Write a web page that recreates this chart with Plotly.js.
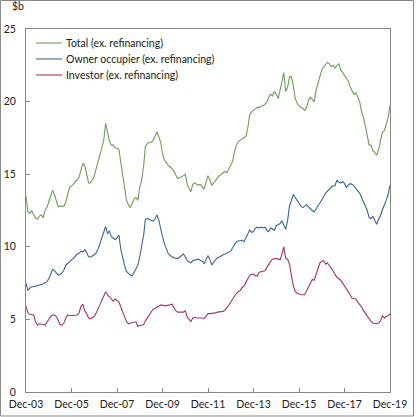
<!DOCTYPE html>
<html>
<head>
<meta charset="utf-8">
<script src="https://cdn.plot.ly/plotly-3.0.1.min.js"></script>
<style>
  html, body { margin: 0; padding: 0; background: #fff; }
  #chart { width: 416px; height: 417px; }
</style>
</head>
<body>
<div id="chart"></div>
<script>
// monthly, Dec-03 .. Dec-19, $b
var total = [
  13.5,
  12.4, 12.3, 12.5, 12.2, 12.0, 11.9, 12.1, 12.2, 12.0, 12.5, 12.7, 13.1,
  13.6, 13.9, 13.6, 13.2, 12.75, 12.8, 12.8, 12.8, 13.1, 13.7, 14.1, 14.2,
  14.3, 14.5, 14.6, 14.8, 15.2, 15.75, 15.6, 14.9, 14.4, 14.4, 14.6, 14.9,
  15.4, 15.8, 16.2, 16.7, 17.3, 18.5, 17.9, 17.3, 17.0, 17.0, 16.8, 16.8,
  16.7, 15.8, 14.8, 13.8, 13.2, 12.9, 12.7, 13.0, 13.3, 13.4, 13.2, 14.1,
  14.6, 15.6, 16.9, 17.1, 17.2, 17.2, 17.3, 17.6, 17.9, 17.6, 17.2, 16.4,
  16.0, 15.8, 15.6, 15.5, 15.4, 15.2, 14.9, 14.7, 14.75, 14.8, 14.9, 15.0,
  14.3, 14.0, 13.8, 14.3, 14.4, 14.3, 14.25, 14.3, 14.1, 14.0, 14.4, 14.9,
  14.6, 14.25, 14.4, 14.6, 14.75, 14.9, 15.0, 15.1, 15.2, 15.1, 15.4, 15.6,
  15.9, 16.6, 17.0, 17.25, 17.35, 17.45, 17.5, 17.6, 18.2, 19.1, 19.3, 19.4,
  19.5, 19.6, 19.6, 19.7, 19.7, 19.8, 19.95, 20.3, 20.5, 20.4, 20.7, 20.5,
  20.2, 20.8, 21.4, 22.0, 20.7, 21.0, 21.7, 21.7, 21.1, 20.2, 19.9, 19.7,
  19.6, 19.55, 19.4, 19.6, 20.1, 20.3, 20.15, 20.0, 20.8, 21.3, 21.8, 22.2,
  22.4, 22.6, 22.7, 22.6, 22.4, 22.5, 22.3, 22.5, 22.6, 22.2, 22.0, 21.85,
  21.6, 21.4, 21.0, 20.7, 20.5, 20.6, 20.3, 20.0, 19.3, 18.9, 18.3, 17.6,
  17.0, 17.0, 16.6, 16.5, 16.3, 16.7, 17.3, 17.9, 18.0, 18.4, 18.9, 19.7
];
var ownerOccupier = [
  7.5,
  7.0, 7.15, 7.25, 7.25, 7.3, 7.3, 7.35, 7.4, 7.45, 7.5, 7.6, 7.8,
  8.1, 8.45, 8.35, 8.2, 8.05, 8.1, 8.2, 8.4, 8.75, 8.85, 9.0, 9.1,
  9.2, 9.4, 9.5, 9.55, 9.7, 9.65, 9.8, 9.6, 9.3, 9.3, 9.35, 9.45,
  9.6, 9.85, 10.2, 10.6, 11.0, 11.4, 10.9, 11.1, 10.7, 10.6, 10.5, 10.6,
  10.8, 9.8, 9.2, 8.7, 8.3, 8.15, 8.05, 8.0, 8.25, 8.55, 8.75, 9.35,
  10.0, 10.8, 11.9, 11.95, 11.9, 11.85, 11.75, 11.9, 12.2, 11.85, 11.2, 10.7,
  10.2, 9.9, 9.55, 9.4, 9.3, 9.25, 9.2, 9.2, 9.3, 9.4, 9.5, 9.3,
  9.05, 8.95, 8.9, 9.05, 9.1, 9.15, 9.15, 9.05, 9.0, 8.85, 9.1, 9.4,
  9.1, 8.75, 8.95, 9.1, 9.25, 9.3, 9.4, 9.45, 9.5, 9.55, 9.6, 9.7,
  9.95, 10.2, 10.35, 10.4, 10.45, 10.45, 10.35, 10.6, 10.9, 11.15, 11.0, 11.05,
  11.3, 11.35, 11.3, 11.35, 11.3, 11.35, 11.15, 11.05, 11.3, 11.25, 11.15, 11.45,
  11.55, 11.6, 11.8, 11.5, 11.2, 11.8, 12.8, 13.2, 13.6, 13.4, 13.2, 13.0,
  12.8, 12.7, 12.8, 12.9, 12.75, 12.6, 12.5, 12.4, 12.6, 12.8, 13.0, 13.2,
  13.45, 13.7, 13.85, 14.0, 14.1, 14.2, 14.2, 14.6, 14.45, 14.4, 14.5, 14.35,
  14.1, 14.25, 14.35, 14.3, 14.2, 14.0, 13.85, 13.7, 13.4, 13.1, 12.7, 12.5,
  12.0, 11.95, 12.1, 11.8, 11.55, 11.9, 12.15, 12.55, 12.85, 13.2, 13.6, 14.25
];
var investor = [
  5.9,
  5.45, 5.35, 5.3, 5.3, 4.85, 4.6, 4.7, 4.7, 4.65, 4.6, 4.8, 4.95,
  5.2, 5.3, 5.3, 5.2, 4.9, 4.65, 4.6, 4.75, 5.1, 5.3, 5.25, 5.25,
  5.3, 5.3, 5.3, 5.45, 5.9, 6.05, 5.6, 5.4, 5.1, 5.05, 5.1, 5.2,
  5.45, 5.7, 6.0, 6.3, 6.6, 6.9, 6.7, 6.55, 6.4, 6.25, 6.4, 6.3,
  6.2, 5.85, 5.5, 5.1, 4.85, 4.7, 4.75, 4.75, 4.8, 4.85, 4.5, 4.6,
  4.6, 4.65, 4.9, 5.1, 5.25, 5.45, 5.7, 5.75, 5.8, 5.9, 6.0, 5.95,
  5.95, 5.95, 5.95, 6.0, 6.05, 5.85, 5.6, 5.5, 5.5, 5.45, 5.5, 5.6,
  5.15, 5.0, 4.85, 5.1, 5.15, 5.1, 5.1, 5.15, 5.1, 5.05, 5.2, 5.4,
  5.4, 5.4, 5.4, 5.45, 5.5, 5.5, 5.5, 5.55, 5.65, 5.8, 6.0, 6.2,
  6.4, 6.6, 6.8, 6.9, 7.0, 7.2, 7.3, 7.55, 7.8, 8.05, 8.1, 8.1,
  8.0, 8.0, 8.25, 8.3, 8.35, 8.35, 8.55, 8.8, 9.0, 9.15, 9.2, 9.2,
  9.15, 9.1, 9.5, 10.0, 9.2, 9.15, 8.8, 8.1, 7.3, 6.95, 6.8, 6.75,
  6.7, 6.7, 6.7, 6.95, 7.3, 7.55, 7.75, 7.7, 8.1, 8.6, 8.9, 9.0,
  9.05, 8.8, 8.9, 8.7, 8.55, 8.35, 8.1, 7.9, 7.8, 7.7, 7.5, 7.3,
  7.1, 6.95, 6.7, 6.45, 6.45, 6.4, 6.2, 6.05, 5.85, 5.6, 5.4, 5.2,
  5.0, 4.85, 4.75, 4.7, 4.7, 4.75, 4.9, 5.25, 5.1, 5.2, 5.25, 5.4
];
var seriesNames = ["Total (ex. refinancing)", "Owner occupier (ex. refinancing)", "Investor (ex. refinancing)"];
var tickYears = [2003, 2005, 2007, 2009, 2011, 2013, 2015, 2017, 2019];
var tickText = ["Dec-03", "Dec-05", "Dec-07", "Dec-09", "Dec-11", "Dec-13", "Dec-15", "Dec-17", "Dec-19"];

// month dates from Dec 2003
var months = total.map(function (v, i) {
  var y = 2003 + Math.floor((11 + i) / 12);
  var m = (11 + i) % 12 + 1;
  return y + "-" + (m < 10 ? "0" + m : m) + "-01";
});
var tickVals = tickYears.map(function (y) { return y + "-12-01"; });

var font = "Lato, 'Open Sans', sans-serif";
var colors = ["#6f9c5b", "#3c6496", "#a3356a"];
var traces = [total, ownerOccupier, investor].map(function (vals, k) {
  return {
    x: months,
    y: vals,
    type: "scatter",
    mode: "lines",
    name: seriesNames[k],
    line: { color: colors[k], width: 1.1 },
    hoverinfo: "skip"
  };
});

// hand made legend, plotly's rows are too tall
var legendY = [0.9614, 0.9174, 0.8733];
var shapes = [{
  type: "rect", xref: "paper", yref: "paper",
  x0: -0.0701, x1: 1.0646, y0: -0.0661, y1: 1.0785,
  line: { color: "#888", width: 1 }
}];
var annotations = [{
  text: "$b", xref: "paper", yref: "paper",
  x: -0.045, y: 1.062, xanchor: "left", yanchor: "middle",
  showarrow: false, font: { family: font, size: 10.5, color: "#222" }
}];
seriesNames.forEach(function (n, k) {
  shapes.push({
    type: "line", xref: "paper", yref: "paper",
    x0: 0.0275, x1: 0.0989, y0: legendY[k], y1: legendY[k],
    line: { color: colors[k], width: 1.1 }
  });
  annotations.push({
    text: n, xref: "paper", yref: "paper",
    x: 0.1044, y: legendY[k], xanchor: "left", yanchor: "middle",
    showarrow: false, font: { family: font, size: 10.5, color: "#222" }
  });
});

var layout = {
  width: 416,
  height: 417,
  margin: { l: 26, r: 26, t: 29, b: 25 },
  paper_bgcolor: "#fff",
  plot_bgcolor: "#fff",
  font: { family: font, size: 10.5, color: "#222" },
  showlegend: false,
  xaxis: {
    type: "date",
    range: ["2003-12-01", "2019-12-01"],
    tickvals: tickVals,
    ticktext: tickText,
    ticks: "inside",
    ticklen: 4,
    tickcolor: "#888",
    showgrid: false,
    zeroline: false,
    showline: true,
    linecolor: "#888",
    linewidth: 1,
    mirror: true,
    tickangle: 0,
    ticklabelstandoff: 2
  },
  yaxis: {
    range: [0, 25],
    tickvals: [0, 5, 10, 15, 20, 25],
    ticks: "inside",
    ticklen: 4,
    tickcolor: "#888",
    showgrid: false,
    zeroline: false,
    showline: true,
    linecolor: "#888",
    linewidth: 1,
    mirror: true,
    ticklabelstandoff: 7
  },
  annotations: annotations,
  shapes: shapes
};

Plotly.newPlot("chart", traces, layout, { displayModeBar: false, staticPlot: true });
</script>
</body>
</html>
